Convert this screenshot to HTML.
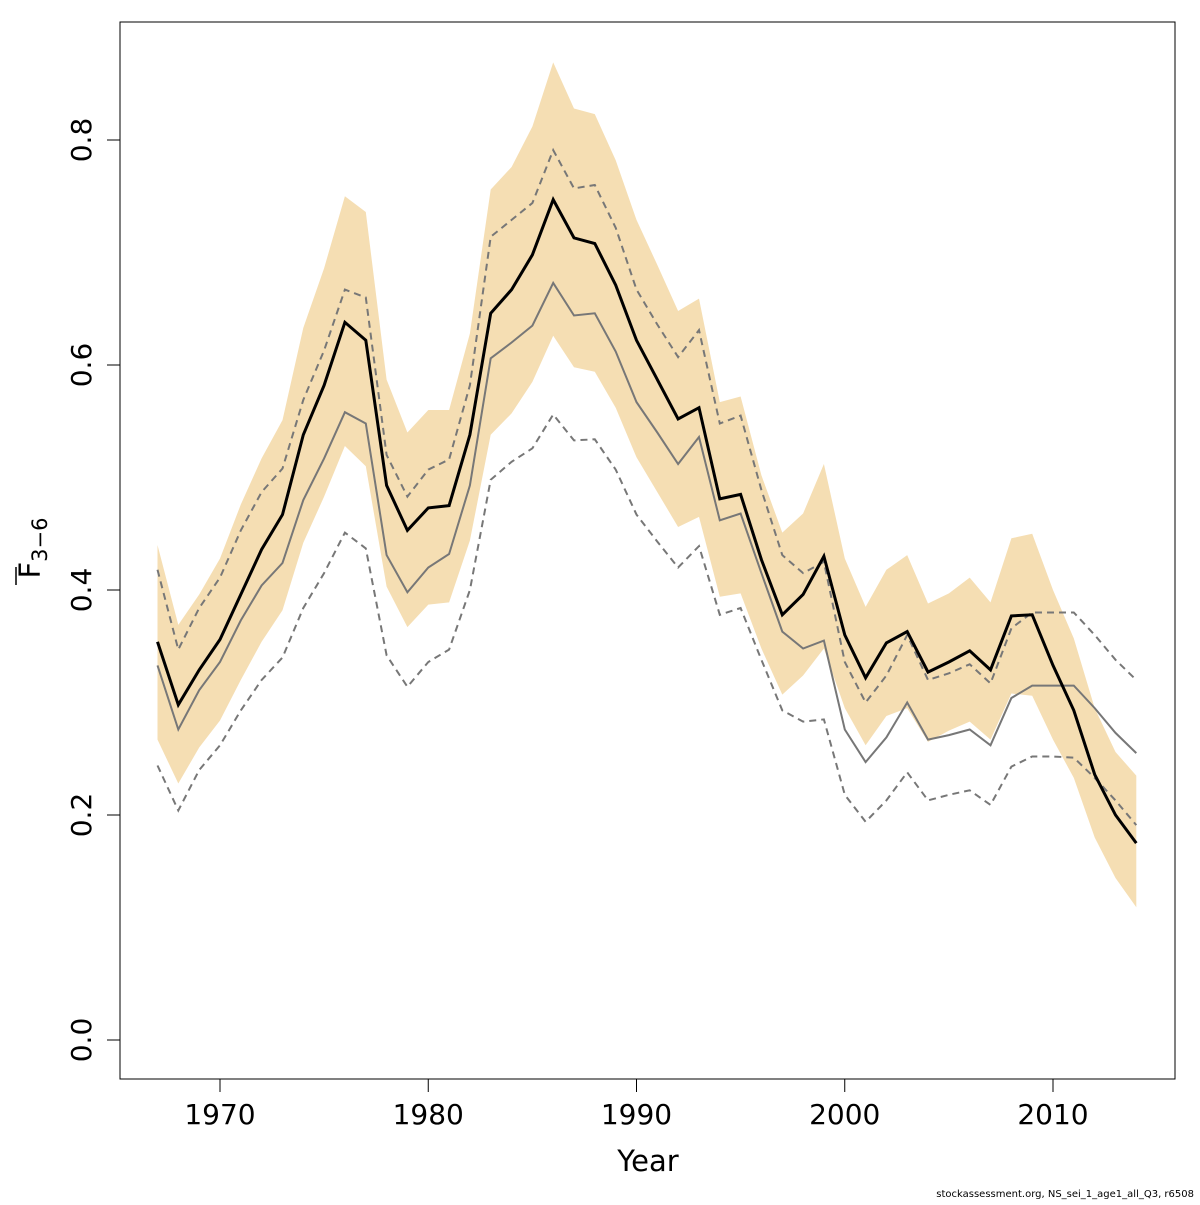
<!DOCTYPE html>
<html><head><meta charset="utf-8"><style>
html,body{margin:0;padding:0;background:#fff;}
svg text{font-family:"DejaVu Sans","Liberation Sans",sans-serif;}
</style></head><body>
<svg id="chart" width="1200" height="1200" xmlns="http://www.w3.org/2000/svg">
<rect x="0" y="0" width="1200" height="1200" fill="#fff"/>
<g id="marks"></g>
<rect x="120" y="22" width="1055" height="1057" fill="none" stroke="#000" stroke-width="1"/>
<g id="axes"></g>
<text x="648" y="1171" font-size="29" text-anchor="middle">Year</text>
<g transform="translate(40,548) rotate(-90)">
<text x="0" y="0" font-size="29" text-anchor="middle">F<tspan font-size="21" dy="7">3−6</tspan></text>
<line x1="-37" y1="-24" x2="-19" y2="-24" stroke="#000" stroke-width="1.5"/>
</g>
<text x="1194" y="1197" font-size="10" text-anchor="end">stockassessment.org, NS_sei_1_age1_all_Q3, r6508</text>
</svg>
<script>
const years=[];for(let y=1967;y<=2014;y++)years.push(y);
const fbar=[0.354,0.298,0.329,0.356,0.396,0.436,0.467,0.538,0.582,0.638,0.622,0.493,0.453,0.473,0.475,0.538,0.646,0.667,0.698,0.747,0.713,0.708,0.671,0.622,0.587,0.552,0.562,0.481,0.485,0.427,0.378,0.396,0.430,0.360,0.322,0.353,0.363,0.327,0.336,0.346,0.329,0.377,0.378,0.333,0.293,0.236,0.200,0.175];
const upperCI=[0.440,0.369,0.396,0.428,0.476,0.517,0.551,0.633,0.686,0.750,0.736,0.587,0.540,0.560,0.560,0.628,0.756,0.776,0.812,0.869,0.828,0.823,0.782,0.729,0.689,0.648,0.659,0.567,0.572,0.502,0.451,0.468,0.512,0.428,0.385,0.418,0.431,0.388,0.397,0.411,0.389,0.446,0.450,0.400,0.357,0.295,0.256,0.235];
const lowerCI=[0.267,0.228,0.260,0.284,0.320,0.354,0.382,0.442,0.483,0.528,0.510,0.403,0.367,0.387,0.389,0.444,0.538,0.557,0.585,0.626,0.598,0.594,0.562,0.518,0.487,0.456,0.465,0.394,0.397,0.348,0.307,0.324,0.348,0.295,0.262,0.288,0.295,0.265,0.275,0.283,0.267,0.308,0.306,0.267,0.233,0.180,0.144,0.118];
const refLine=[0.333,0.276,0.311,0.336,0.373,0.404,0.424,0.480,0.517,0.558,0.548,0.431,0.398,0.420,0.432,0.493,0.606,0.620,0.635,0.673,0.644,0.646,0.612,0.567,0.540,0.512,0.536,0.462,0.468,0.415,0.363,0.348,0.355,0.276,0.247,0.269,0.300,0.267,0.271,0.276,0.262,0.304,0.315,0.315,0.315,0.295,0.273,0.255];
const refUpper=[0.418,0.347,0.384,0.411,0.453,0.487,0.508,0.569,0.613,0.667,0.660,0.520,0.483,0.507,0.516,0.582,0.714,0.729,0.744,0.791,0.757,0.760,0.722,0.667,0.636,0.607,0.631,0.548,0.555,0.489,0.431,0.415,0.425,0.336,0.300,0.324,0.360,0.320,0.326,0.334,0.317,0.366,0.380,0.380,0.380,0.360,0.338,0.320];
const refLower=[0.244,0.204,0.240,0.262,0.293,0.320,0.340,0.384,0.415,0.451,0.437,0.342,0.314,0.336,0.347,0.400,0.498,0.514,0.526,0.556,0.533,0.534,0.507,0.467,0.443,0.420,0.439,0.378,0.384,0.338,0.293,0.283,0.285,0.218,0.194,0.213,0.238,0.213,0.218,0.222,0.209,0.243,0.252,0.252,0.251,0.233,0.213,0.191];
const xTicks=[1970,1980,1990,2000,2010];
const yTicks=[0.0,0.2,0.4,0.6,0.8];
const yTickLabels=["0.0","0.2","0.4","0.6","0.8"];

const NS="http://www.w3.org/2000/svg";
const xs=v=>220+(v-1970)*20.825;
const ys=v=>1040-v*1125;
const marks=document.getElementById('marks');
const axes=document.getElementById('axes');
function mk(tag,attrs,parent){const e=document.createElementNS(NS,tag);for(const k in attrs)e.setAttribute(k,attrs[k]);parent.appendChild(e);return e;}
const pts=a=>a.map((v,i)=>xs(years[i]).toFixed(1)+','+ys(v).toFixed(1)).join(' ');

const band=mk('polygon',{points:pts(upperCI)+' '+upperCI.map((_,i)=>{const j=lowerCI.length-1-i;return xs(years[j]).toFixed(1)+','+ys(lowerCI[j]).toFixed(1);}).join(' '),fill:'#f5deb3',stroke:'none'},marks);


const series=[[refLine,'#777',2,null,'reference-line'],[refUpper,'#777',2,'7,5','reference-upper-dashed'],[refLower,'#777',2,'7,5','reference-lower-dashed'],[fbar,'#000',3,null,'fbar-line']];
series.forEach(s=>{const p=mk('polyline',{points:pts(s[0]),fill:'none',stroke:s[1],'stroke-width':s[2]},marks);if(s[3])p.setAttribute('stroke-dasharray',s[3]);

});

mk('line',{x1:xs(1970),x2:xs(2010),y1:1079,y2:1079,stroke:'#000'},axes);
xTicks.forEach(t=>{mk('line',{x1:xs(t),x2:xs(t),y1:1079,y2:1092,stroke:'#000'},axes);
const tx=mk('text',{x:xs(t),y:1124,'font-size':28,'text-anchor':'middle'},axes);tx.textContent=t;

});
yTicks.forEach((t,i)=>{mk('line',{x1:107,x2:120,y1:ys(t),y2:ys(t),stroke:'#000'},axes);
const tx=mk('text',{x:0,y:0,'font-size':28,'text-anchor':'middle',transform:`translate(91,${ys(t)}) rotate(-90)`},axes);tx.textContent=yTickLabels[i];

});
</script>
</body></html>
